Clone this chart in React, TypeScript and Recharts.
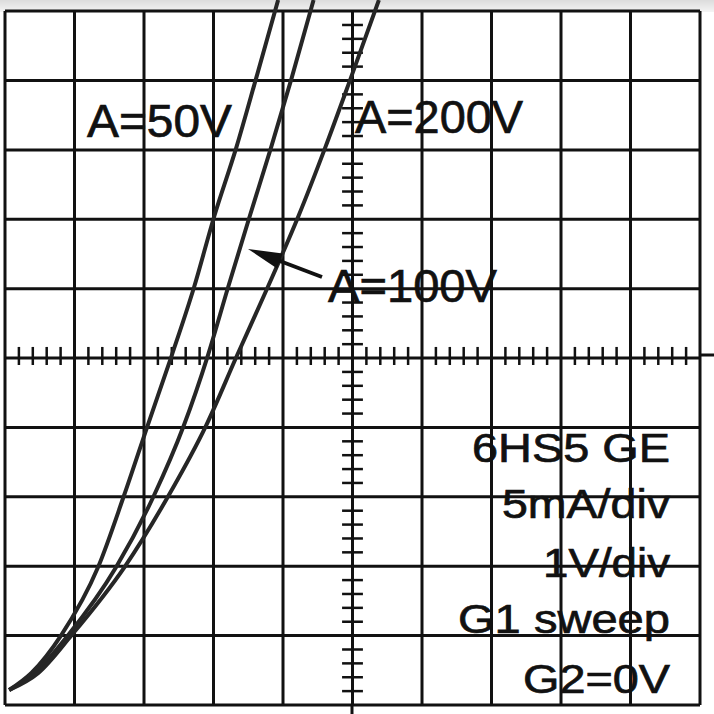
import { CartesianGrid, Line, LineChart, ReferenceLine, XAxis, YAxis } from "recharts";

// scope graticule: 1 V/div across, 5 mA/div up
const gridVolts = [-5, -4, -3, -2, -1, 0, 1, 2, 3, 4, 5];
const gridMilliamps = [0, 5, 10, 15, 20, 25, 30, 35, 40, 45, 50];

// traces (G1 volts, anode mA)
const traceA50 = [
  { v: -4.94, i: 1.08 },
  { v: -4.62, i: 2.31 },
  { v: -4.19, i: 5.04 },
  { v: -3.66, i: 9.94 },
  { v: -3.29, i: 15.06 },
  { v: -2.95, i: 20.1 },
  { v: -2.6, i: 25.2 },
  { v: -2.28, i: 30.1 },
  { v: -1.99, i: 35.2 },
  { v: -1.67, i: 40.2 },
  { v: -1.39, i: 45.1 },
  { v: -1.07, i: 50.8 },
];

const traceA100 = [
  { v: -4.94, i: 1.08 },
  { v: -4.57, i: 2.31 },
  { v: -4.09, i: 5.04 },
  { v: -3.4, i: 9.94 },
  { v: -2.86, i: 15.06 },
  { v: -2.43, i: 20.1 },
  { v: -2.08, i: 25.2 },
  { v: -1.79, i: 30.1 },
  { v: -1.48, i: 35.2 },
  { v: -1.17, i: 40.2 },
  { v: -0.88, i: 45.1 },
  { v: -0.56, i: 50.8 },
];

const traceA200 = [
  { v: -4.94, i: 1.08 },
  { v: -4.52, i: 2.31 },
  { v: -4.04, i: 5.04 },
  { v: -3.28, i: 9.94 },
  { v: -2.65, i: 15.06 },
  { v: -2.11, i: 20.1 },
  { v: -1.66, i: 25.2 },
  { v: -1.22, i: 30.1 },
  { v: -0.78, i: 35.2 },
  { v: -0.39, i: 40.2 },
  { v: -0.03, i: 45.1 },
  { v: 0.38, i: 50.8 },
];

const curveLabels = ["A=50V", "A=100V", "A=200V"];
const noteLines = ["6HS5 GE", "5mA/div", "1V/div", "G1 sweep", "G2=0V"];

// minor marks on the centre axes, 5 per division
const minorVolts = gridVolts
  .slice(0, -1)
  .flatMap((g) => [0.2, 0.4, 0.6, 0.8].map((f) => +(g + f).toFixed(1)));
const minorMilliamps = gridMilliamps
  .slice(0, -1)
  .flatMap((g) => [1, 2, 3, 4].map((f) => g + f));

const ink = "#111";
const traceInk = "#262626";
const font = "'Liberation Sans', Arial, sans-serif";

export default function App() {
  return (
    <div
      style={{
        position: "absolute",
        left: 0,
        top: 0,
        width: 714,
        height: 714,
        background: "#fff",
        overflow: "hidden",
      }}
    >
      <div
        style={{
          position: "absolute",
          left: 0,
          top: 0,
          width: 714,
          height: 12,
          background: "linear-gradient(#dcdcdc, #f4f4f4)",
        }}
      />
      <LineChart
        width={714}
        height={714}
        margin={{ top: 0, right: 14, bottom: 9, left: 5 }}
        style={{ position: "absolute", left: 0, top: 0 }}
      >
        <XAxis
          type="number"
          dataKey="v"
          domain={[-5, 5]}
          ticks={gridVolts}
          allowDataOverflow
          hide
        />
        <YAxis
          type="number"
          dataKey="i"
          domain={[0, 50.8]}
          ticks={gridMilliamps}
          allowDataOverflow
          hide
        />
        <CartesianGrid
          vertical={false}
          horizontalValues={gridMilliamps}
          stroke={ink}
          strokeWidth={3}
        />
        {gridVolts.map((g) => (
          <ReferenceLine
            key={`gv${g}`}
            segment={[
              { x: g, y: 0 },
              { x: g, y: 50 },
            ]}
            stroke={ink}
            strokeWidth={3}
          />
        ))}
        {minorVolts.map((m) => (
          <ReferenceLine
            key={`mv${m}`}
            segment={[
              { x: m, y: 24.5 },
              { x: m, y: 25.8 },
            ]}
            stroke={ink}
            strokeWidth={2.5}
          />
        ))}
        {minorMilliamps
          .filter((m) => m !== 25)
          .map((m) => (
            <ReferenceLine
              key={`mi${m}`}
              segment={[
                { x: -0.15, y: m },
                { x: 0.15, y: m },
              ]}
              stroke={ink}
              strokeWidth={2.5}
            />
          ))}
        <Line
          data={traceA50}
          dataKey="i"
          name={curveLabels[0]}
          type="monotone"
          stroke={traceInk}
          strokeWidth={4}
          dot={false}
          isAnimationActive={false}
        />
        <Line
          data={traceA100}
          dataKey="i"
          name={curveLabels[1]}
          type="monotone"
          stroke={traceInk}
          strokeWidth={4}
          dot={false}
          isAnimationActive={false}
        />
        <Line
          data={traceA200}
          dataKey="i"
          name={curveLabels[2]}
          type="monotone"
          stroke={traceInk}
          strokeWidth={4}
          dot={false}
          isAnimationActive={false}
        />
      </LineChart>
      <svg
        width={714}
        height={714}
        style={{ position: "absolute", left: 0, top: 0, pointerEvents: "none" }}
      >
        {/* centre axes run past the graticule edge in the photo */}
        <line x1={699} y1={355} x2={714} y2={355} stroke={ink} strokeWidth={3} />
        <line x1={352} y1={705} x2={352} y2={714} stroke={ink} strokeWidth={3} />
        <g fontFamily={font} fill={ink} stroke={ink} strokeWidth={0.7}>
          <text x={87} y={137} fontSize={47} textLength={145} lengthAdjust="spacingAndGlyphs">
            {curveLabels[0]}
          </text>
          <text x={328} y={302} fontSize={47} textLength={169} lengthAdjust="spacingAndGlyphs">
            {curveLabels[1]}
          </text>
          <text x={355} y={133} fontSize={47} textLength={168} lengthAdjust="spacingAndGlyphs">
            {curveLabels[2]}
          </text>
          <text x={472} y={462} fontSize={41} textLength={198} lengthAdjust="spacingAndGlyphs">
            {noteLines[0]}
          </text>
          <text x={502} y={518} fontSize={41} textLength={168} lengthAdjust="spacingAndGlyphs">
            {noteLines[1]}
          </text>
          <text x={543} y={577} fontSize={41} textLength={127} lengthAdjust="spacingAndGlyphs">
            {noteLines[2]}
          </text>
          <text x={458} y={633} fontSize={41} textLength={212} lengthAdjust="spacingAndGlyphs">
            {noteLines[3]}
          </text>
          <text x={523} y={693} fontSize={41} textLength={147} lengthAdjust="spacingAndGlyphs">
            {noteLines[4]}
          </text>
        </g>
        <line x1={322} y1={277} x2={272} y2={258} stroke={ink} strokeWidth={4} />
        <polygon points="248,249 282.7,253.5 277.1,268.5" fill={ink} />
      </svg>
    </div>
  );
}
